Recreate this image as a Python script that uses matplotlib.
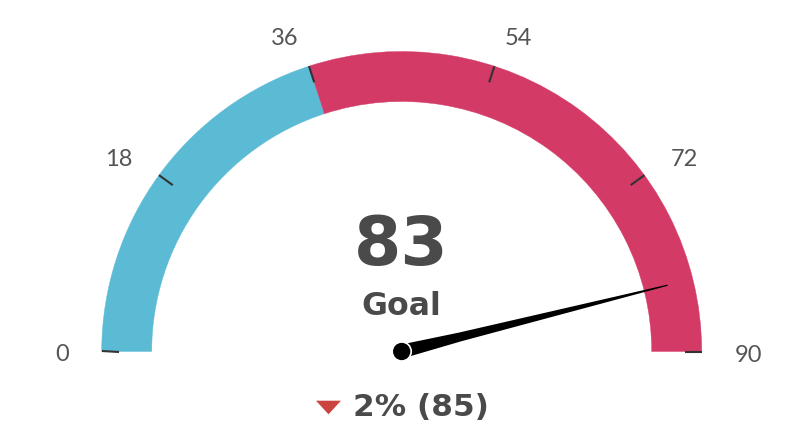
import numpy as np
import matplotlib
matplotlib.use("Agg")
import matplotlib.pyplot as plt
from matplotlib.patches import Wedge, Circle, Polygon

# gauge data
gauge_min = 0
gauge_max = 90
band_from = [0, 36]
band_to = [36, 90]
band_colors = ['#5BBBD5', '#D43A66']
tick_values = [0, 18, 36, 54, 72, 90]
value = 83
value_label = "Goal"
change_pct = 2
previous_value = 85

W, H = 794, 434
fig = plt.figure(figsize=(W / 100, H / 100), dpi=100)
ax = fig.add_axes([0, 0, 1, 1])
ax.set_xlim(0, W)
ax.set_ylim(0, H)
ax.axis('off')

cx, cy = 401.7, H - 351.5
r_out, r_in = 300, 250
text_color = '#4A4A4A'


def to_angle(v):
    return 180 - (v - gauge_min) / (gauge_max - gauge_min) * 180


# bands
for f, t, c in zip(band_from, band_to, band_colors):
    ax.add_patch(Wedge((cx, cy), r_out, to_angle(t), to_angle(f),
                       width=r_out - r_in, facecolor=c, edgecolor=c,
                       linewidth=0.3))

# ticks and labels (left half right-aligned, right half left-aligned)
for v in tick_values:
    a = np.radians(to_angle(v))
    ax.plot([cx + 283 * np.cos(a), cx + 300 * np.cos(a)],
            [cy + 283 * np.sin(a), cy + 300 * np.sin(a)],
            color='#333333', lw=1.5, solid_capstyle='butt', zorder=3)
    c = np.cos(a)
    ha = 'center' if abs(c) < 1e-6 else ('right' if c < 0 else 'left')
    ax.text(cx + 333 * np.cos(a), cy + 333 * np.sin(a) - 10, str(v),
            ha=ha, va='baseline', fontsize=17, family='Lato',
            color='#555555')

# needle
na = np.radians(to_angle(value))
needle = np.array([[-2, 7], [60, 4.5], [274, 0.6], [274, -0.6],
                   [60, -4.5], [-2, -7]])
rot = np.array([[np.cos(na), -np.sin(na)], [np.sin(na), np.cos(na)]])
pts = needle @ rot.T + [cx, cy]
ax.add_patch(Polygon(pts, closed=True, facecolor='black', edgecolor='none',
                     zorder=4))
ax.add_patch(Circle((cx, cy), 9.5, facecolor='black', edgecolor='white',
                    linewidth=1.2, zorder=5))

# value text
ax.text(cx - 1, H - 265, str(value), ha='center', va='baseline',
        fontsize=49, fontweight='bold', family='DejaVu Sans', color=text_color)
ax.text(cx, H - 315, value_label, ha='center', va='baseline',
        fontsize=22.7, fontweight='bold', family='DejaVu Sans', color=text_color)

# change indicator
ax.add_patch(Polygon([[316, H - 400.7], [341, H - 400.7], [328.5, H - 414.3]],
                     closed=True, facecolor='#CC4440', edgecolor='none'))
ax.text(352.7, H - 416, f"{change_pct}% ({previous_value})", ha='left',
        va='baseline', fontsize=22.5, fontweight='bold', family='DejaVu Sans',
        color=text_color)

fig.savefig('out.png', dpi=100)
